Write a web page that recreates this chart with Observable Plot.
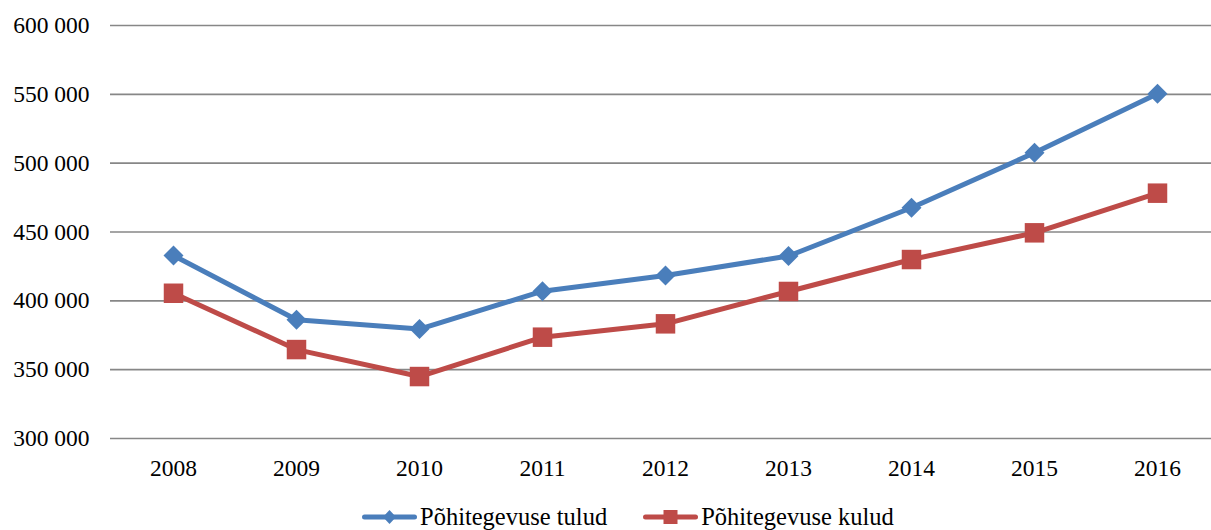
<!DOCTYPE html>
<html>
<head>
<meta charset="utf-8">
<script src="https://cdn.jsdelivr.net/npm/d3@7"></script>
<script src="https://cdn.jsdelivr.net/npm/@observablehq/plot@0.6"></script>
</head>
<body style="margin:0;padding:0;background:#fff;font-family:'Liberation Serif'">
<div id="wrap" style="position:relative;width:1211px;height:530px;font-family:'Liberation Serif'">
  <div id="chart"></div>
  <div id="legend" style="position:absolute;left:362px;top:503px;display:flex;align-items:center;font-size:24.5px;line-height:28px;color:#000;white-space:nowrap;font-family:'Liberation Serif'"></div>
</div>
<script>
const years = ["2008", "2009", "2010", "2011", "2012", "2013", "2014", "2015", "2016"];
const tulud = [432900, 386200, 379500, 407000, 418400, 432600, 467600, 507500, 550400];
const kulud = [405500, 364600, 345000, 373600, 383300, 406800, 430000, 449400, 478200];
const seriesNames = ["Põhitegevuse tulud", "Põhitegevuse kulud"];
const yTicks = [300000, 350000, 400000, 450000, 500000, 550000, 600000];
const colors = ["#4A7EBB", "#BE4B48"];

const data = [];
years.forEach((y, i) => data.push({year: y, value: tulud[i], series: seriesNames[0]}));
years.forEach((y, i) => data.push({year: y, value: kulud[i], series: seriesNames[1]}));

const fmt = d => d3.format(",")(d).replace(/,/g, " ");

const chart = Plot.plot({
  width: 1211,
  height: 495,
  marginTop: 25,
  marginBottom: 57,
  marginLeft: 110,
  marginRight: 0,
  style: { fontFamily: "Liberation Serif", fontSize: "23.5px", color: "#000", background: "#fff" },
  x: { type: "point", domain: years, range: [172, 1158], padding: 0, label: null },
  y: { domain: [300000, 600000], label: null },
  color: { domain: seriesNames, range: colors },
  marks: [
    Plot.ruleY(yTicks, { stroke: "#878787", strokeWidth: 1.6 }),
    Plot.axisY(yTicks, { tickSize: 0, tickPadding: 21, tickFormat: fmt, fontSize: 23.5, fill: "#000", label: null }),
    Plot.axisX(years, { tickSize: 0, tickPadding: 21, fontSize: 23.5, fill: "#000", label: null }),
    Plot.line(data, { x: "year", y: "value", z: "series", stroke: "series", strokeWidth: 5, strokeLinejoin: "round", strokeLinecap: "butt" }),
    Plot.dot(data.filter(d => d.series === seriesNames[0]), { x: "year", y: "value", symbol: "diamond2", r: 9, fill: colors[0], stroke: "none" }),
    Plot.dot(data.filter(d => d.series === seriesNames[1]), { x: "year", y: "value", symbol: "square", r: 11, fill: colors[1], stroke: "none" })
  ]
});
chart.querySelectorAll("text, g").forEach(el => { el.style.fontFamily = "Liberation Serif"; });
chart.style.fontFamily = "Liberation Serif";
document.getElementById("chart").appendChild(chart);

// legend
const legend = document.getElementById("legend");
seriesNames.forEach((name, i) => {
  const item = document.createElement("div");
  item.style.display = "flex";
  item.style.alignItems = "center";
  if (i === 1) item.style.marginLeft = "36px";
  const marker = i === 0
    ? `<polygon points="27.5,19 34,26 27.5,33 21,26" fill="${colors[i]}"/>`
    : `<rect x="20.5" y="19" width="14" height="14" fill="${colors[i]}"/>`;
  item.innerHTML = `<svg width="55" height="52" viewBox="0 0 55 52" style="display:block;margin-right:3px;width:55px;height:52px;margin-top:-13px;margin-bottom:-13px"><line x1="2.5" y1="26" x2="52.5" y2="26" stroke="${colors[i]}" stroke-width="5" stroke-linecap="round"/>${marker}</svg><span style="font-family:'Liberation Serif'">${name}</span>`;
  legend.appendChild(item);
});
</script>
</body>
</html>
